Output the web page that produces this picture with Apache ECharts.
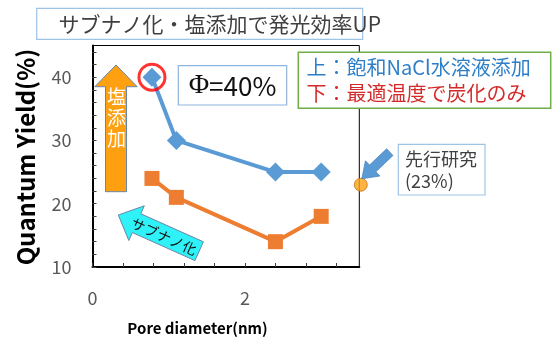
<!DOCTYPE html>
<html>
<head>
<meta charset="utf-8">
<script src="https://cdn.jsdelivr.net/npm/echarts@6/dist/echarts.min.js"></script>
<style>
  html, body { margin: 0; padding: 0; background: #fff; }
  #chart { width: 552px; height: 339px; }
</style>
</head>
<body>
<div id="chart"></div>
<script>
// Pore diameter (nm) of each sample
const poreDiameter = [0.78, 1.1, 2.4, 3.0];
// Quantum yield (%) with saturated NaCl solution added
const yieldWithSalt = [40, 30, 25, 25];
// Quantum yield (%) carbonized at the optimum temperature only
const yieldCarbonOnly = [24, 21, 14, 18];
// Prior study reference point [pore diameter, yield]
const priorStudy = [3.52, 23];
// Labelled ticks
const yTickLabels = [10, 20, 30, 40];
const xTickLabels = [0, 2];

const FONT = '"Noto Sans CJK JP", "Noto Sans", sans-serif';
const chart = echarts.init(document.getElementById('chart'), null, { renderer: 'canvas' });

function pairs(xs, ys) { return xs.map((x, i) => [x, ys[i]]); }
function isLabelled(v, list) { return list.some(t => Math.abs(t - v) < 1e-6); }

// Block arrow outline: tip point, unit direction (tail -> tip), total length,
// head length, half width of head and of shaft.
function arrowPoints(tip, dir, len, headLen, headHalf, shaftHalf) {
  const dx = dir[0], dy = dir[1];
  const nx = -dy, ny = dx;
  const bx = tip[0] - dx * headLen, by = tip[1] - dy * headLen;
  const tx = tip[0] - dx * len, ty = tip[1] - dy * len;
  return [
    [tip[0], tip[1]],
    [bx + nx * headHalf, by + ny * headHalf],
    [bx + nx * shaftHalf, by + ny * shaftHalf],
    [tx + nx * shaftHalf, ty + ny * shaftHalf],
    [tx - nx * shaftHalf, ty - ny * shaftHalf],
    [bx - nx * shaftHalf, by - ny * shaftHalf],
    [bx - nx * headHalf, by - ny * headHalf]
  ];
}
function unit(vx, vy) { const l = Math.hypot(vx, vy); return [vx / l, vy / l]; }

const option = {
  animation: false,
  backgroundColor: '#ffffff',
  grid: {
    left: 92.5, right: 192.7, top: 45.5, bottom: 72,
    show: true, borderColor: '#000', borderWidth: 1,
    containLabel: false, outerBoundsMode: 'none'
  },
  xAxis: {
    type: 'value', min: 0, max: 3.5, interval: 0.4,
    axisLine: { show: true, lineStyle: { color: '#000', width: 2 } },
    axisTick: { show: true, inside: true, length: 4, lineStyle: { color: '#404040', width: 1 } },
    splitLine: { show: false },
    axisLabel: {
      margin: 22, fontSize: 18, color: '#595959', fontFamily: FONT,
      showMaxLabel: false,
      formatter: v => isLabelled(v, xTickLabels) ? String(Math.round(v)) : ''
    }
  },
  yAxis: {
    type: 'value', min: 10, max: 45, interval: 2,
    axisLine: { show: true, lineStyle: { color: '#000', width: 2 } },
    axisTick: { show: true, inside: true, length: 4, lineStyle: { color: '#404040', width: 1 } },
    splitLine: { show: false },
    axisLabel: {
      margin: 21, fontSize: 18, color: '#595959', fontFamily: FONT,
      showMaxLabel: false,
      formatter: v => isLabelled(v, yTickLabels) ? String(Math.round(v)) : ''
    }
  },
  series: [
    {
      name: '飽和NaCl水溶液添加', type: 'line',
      data: pairs(poreDiameter, yieldWithSalt),
      symbol: 'diamond', symbolSize: 19,
      lineStyle: { color: '#5b9bd5', width: 4 },
      itemStyle: { color: '#5b9bd5' }, z: 3
    },
    {
      name: '最適温度で炭化のみ', type: 'line',
      data: pairs(poreDiameter, yieldCarbonOnly),
      symbol: 'rect', symbolSize: 15,
      lineStyle: { color: '#ed7d31', width: 4 },
      itemStyle: { color: '#ed7d31' }, z: 3
    },
    {
      // highlight ring around the best yield
      name: 'best', type: 'scatter',
      data: [[poreDiameter[0], yieldWithSalt[0]]],
      symbol: 'circle', symbolSize: 26,
      itemStyle: { color: 'rgba(0,0,0,0)', borderColor: '#ff0000', borderWidth: 3 },
      z: 5, silent: true
    },
    {
      name: '先行研究', type: 'scatter', clip: false,
      data: [priorStudy],
      symbol: 'circle', symbolSize: 13,
      itemStyle: { color: '#ffa010', borderColor: '#c0701a', borderWidth: 1 },
      z: 6
    }
  ]
};
chart.setOption(option);

// Annotations
const dot = chart.convertToPixel({ gridIndex: 0 }, priorStudy);
const blueTip = [dot[0] + 1, dot[1] - 6];
const graphics = [
  // title
  { type: 'rect', z: 50, shape: { x: 36.7, y: 8.3, width: 326, height: 31 },
    style: { fill: '#fff', stroke: '#9dc3e6', lineWidth: 1.2 } },
  { type: 'text', z: 51, x: 58.5, y: 24,
    style: { text: 'サブナノ化・塩添加で発光効率UP', font: '21px ' + FONT, fill: '#404040',
             align: 'left', verticalAlign: 'middle' } },
  // legend box
  { type: 'rect', z: 50, shape: { x: 298.3, y: 52.3, width: 252.4, height: 56 },
    style: { fill: '#fff', stroke: '#70ad47', lineWidth: 1.5 } },
  { type: 'text', z: 51, x: 306.5, y: 67,
    style: { text: '上：飽和NaCl水溶液添加', font: '20px ' + FONT, fill: '#2e7fc8',
             align: 'left', verticalAlign: 'middle' } },
  { type: 'text', z: 51, x: 306.5, y: 93.5,
    style: { text: '下：最適温度で炭化のみ', font: '20px ' + FONT, fill: '#d42a2a',
             align: 'left', verticalAlign: 'middle' } },
  // Φ box
  { type: 'rect', z: 50, shape: { x: 178.3, y: 65.7, width: 108.4, height: 39.3 },
    style: { fill: '#fff', stroke: '#8fb4dd', lineWidth: 1.2 } },
  { type: 'text', z: 51, x: 232.5, y: 86,
    style: { text: '{a|Φ}{b|=40%}', align: 'center', verticalAlign: 'middle',
             rich: { a: { fontFamily: '"Liberation Serif", serif', fontSize: 28, fill: '#111' },
                     b: { fontFamily: FONT, fontSize: 26, fill: '#111' } } } },
  // salt arrow (up)
  { type: 'polygon', z: 40,
    shape: { points: arrowPoints([116, 65], [0, -1], 126.7, 21.7, 21.2, 10.5) },
    style: { fill: '#ffa010', stroke: '#6a86a8', lineWidth: 1 } },
  { type: 'text', z: 41, x: 116.5, y: 118,
    style: { text: '塩\n添\n加', font: '19px ' + FONT, fill: '#fff', lineHeight: 21,
             align: 'center', verticalAlign: 'middle' } },
  // sub-nano arrow (up-left)
  { type: 'polygon', z: 40,
    shape: { points: arrowPoints([118.3, 215], unit(-80.9, -36.2), 88.6, 20, 19, 10.3) },
    style: { fill: '#2ef2f7', stroke: '#6a86a8', lineWidth: 1 } },
  { type: 'text', z: 41, x: 164, y: 236.5, rotation: -24 * Math.PI / 180,
    style: { text: 'サブナノ化', font: '14px ' + FONT, fill: '#111',
             align: 'center', verticalAlign: 'middle' } },
  // prior study note
  { type: 'rect', z: 50, shape: { x: 398.3, y: 144.3, width: 86.7, height: 50.7 },
    style: { fill: '#fff', stroke: '#9dc3e6', lineWidth: 1.2 } },
  { type: 'text', z: 51, x: 405, y: 170,
    style: { text: '先行研究\n(23%)', font: '18px ' + FONT, fill: '#404040', lineHeight: 22,
             align: 'left', verticalAlign: 'middle' } },
  { type: 'polygon', z: 45,
    shape: { points: arrowPoints(blueTip, unit(-28, 26.6), 38.6, 15, 10.5, 4.6) },
    style: { fill: '#5b9bd5', stroke: '#4a86bf', lineWidth: 0.8 } },
  // axis titles
  { type: 'text', z: 30, x: 26, y: 157, rotation: Math.PI / 2,
    style: { text: 'Quantum Yield(%)', font: 'bold 24px ' + FONT, fill: '#000',
             align: 'center', verticalAlign: 'middle' } },
  { type: 'text', z: 30, x: 197.5, y: 328,
    style: { text: 'Pore diameter(nm)', font: 'bold 15px ' + FONT, fill: '#000',
             align: 'center', verticalAlign: 'middle' } }
];
chart.setOption({ graphic: graphics });
</script>
</body>
</html>
